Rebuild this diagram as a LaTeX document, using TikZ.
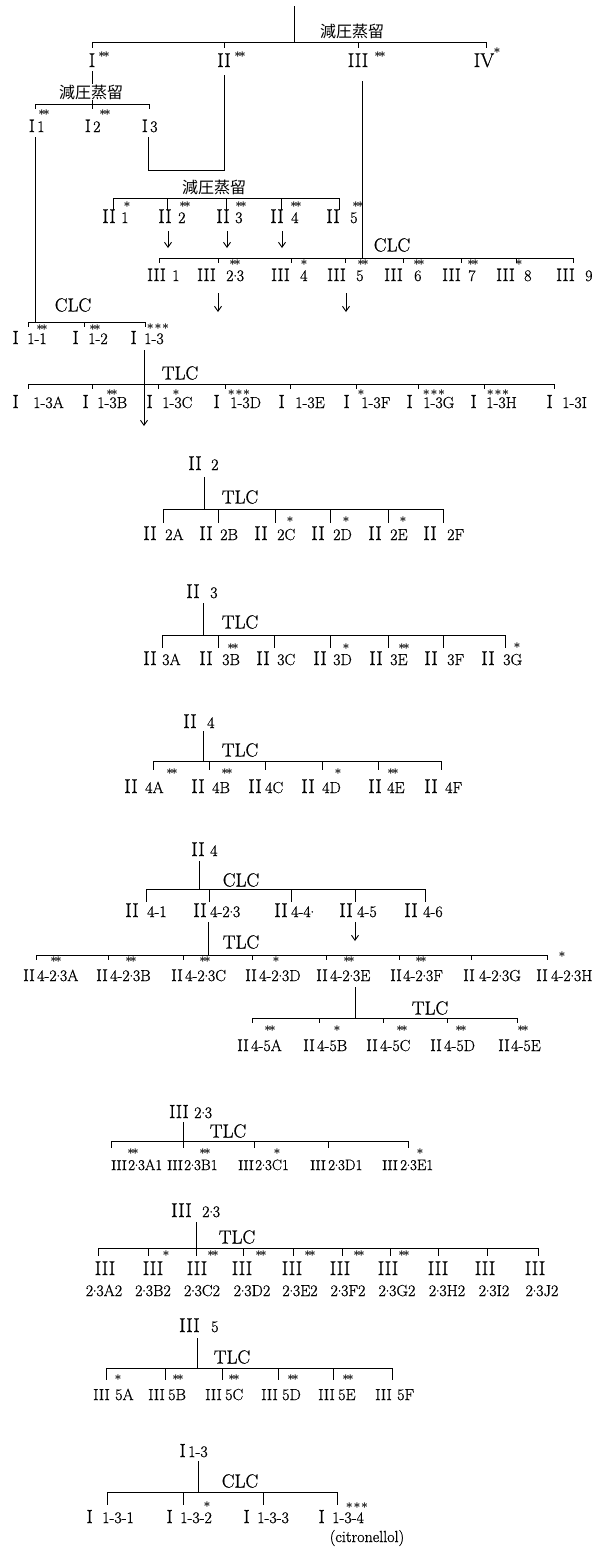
\documentclass[tikz,border=0pt]{standalone}
\usepackage{fontspec}
\setmainfont{Latin Modern Roman}[FakeBold=0.7]
\newfontfamily\jpfam{Noto Sans CJK JP}
\usetikzlibrary{arrows.meta}
\newcommand\rnsize{\fontsize{18}{18}\selectfont}
\newcommand\setrn[1]{\renewcommand\rnsize{\fontsize{#1}{#1}\selectfont}}
\newcommand\subsize{\fontsize{16}{16}\selectfont}
\newcommand\setsub[1]{\renewcommand\subsize{\fontsize{#1}{#1}\selectfont}}
\newcommand\cd{\kern-0.4pt\raisebox{0.28em}{.}\kern-0.4pt}
\newcommand\rowbar{0}\newcommand\rowtick{0}\newcommand\rowbase{0}\newcommand\rowbasetwo{0}
\newcommand\setrow[3]{\renewcommand\rowbar{#1}\renewcommand\rowtick{#2}\renewcommand\rowbase{#3}}
\newcommand\tickn[2]{\coordinate (#1t) at (#2,\rowbar); \coordinate (#1b) at (#2,\rowtick); \draw[ln] (#1t) -- (#1b);}
\newcommand\leafn[6]{%
 \tickn{#1}{#2}
 \node[rn,anchor=base east] (#1r) at (#3,\rowbase) {#5};
 \node[sbs,anchor=base west] (#1s) at (#4,\rowbase) {#6};}
\newcommand\leafv[5]{%
 \tickn{#1}{#2}
 \node[rn,anchor=base] (#1r) at (#3,\rowbase) {III};
 \node[sbs,anchor=base] (#1s) at (#4,\rowbasetwo) {#5};}
\newcommand\hdr[6]{%
 \node[rn,anchor=base east] (#1r) at (#2,#4) {#5};
 \node[sbs,anchor=base west] (#1s) at (#3,#4) {#6};}
\newcommand\mkstar[4]{\node[stf] (#1) at (#2,#3) {#4};}
\newcommand\sone{$\ast$}
\newcommand\stwo{$\ast\mkern-3mu\ast$}
\newcommand\sthree{$\ast\mkern-3mu\ast\mkern-3mu\ast$}
\tikzset{
 ln/.style={line width=0.9pt},
 rn/.style={inner sep=0pt, font=\rnsize},
 sbs/.style={inner sep=0pt, font=\subsize},
 jp/.style={inner sep=1pt, font=\jpfam\fontsize{16}{16}\selectfont},
 lab/.style={inner sep=0pt, font=\fontsize{19}{19}\selectfont},
 stf/.style={inner sep=0pt, font=\fontsize{12}{12}\selectfont\boldmath},
 arr/.style={line width=0.9pt, -{Straight Barb[length=5pt,width=7pt]}},
}
\begin{document}
\begin{tikzpicture}[x=1pt,y=-1pt]
\fill[white] (0,0) rectangle (605,1548);
\useasboundingbox (0,0) rectangle (605,1548);
% ---------- top distillation
\coordinate (top) at (294,6);
\coordinate (topj) at (294,42);
\draw[ln] (top) -- (topj);
\node[jp] (d1) at (352,31) {減圧蒸留};
\setrow{42}{48}{67}
\tickn{aI}{92}\tickn{aII}{224}\tickn{aIII}{358}\tickn{aIV}{486}
\draw[ln] (aIt) -- (aIVt);
\setrn{20}
\node[rn,anchor=base] (nI) at (92,67) {I};
\node[rn,anchor=base] (nII) at (224,67) {II};
\node[rn,anchor=base] (nIII) at (358,67) {III};
\node[rn,anchor=base] (nIV) at (484,67) {IV};
\mkstar{sI}{104}{55}{\stwo}
\mkstar{sII}{240}{55}{\stwo}
\mkstar{sIII}{380}{55}{\stwo}
\mkstar{sIV}{497}{51}{\sone}
% ---------- I distillation
\coordinate (bIm) at (92,104);
\draw[ln] ([yshift=-4pt]nI.south) -- (bIm);
\node[jp,fill=white] (d2) at (91,92) {減圧蒸留};
\setrow{104}{109}{132}
\setrn{18}
\leafn{bI1}{35}{35}{37}{I}{1}
\leafn{bI2}{92}{91}{93}{I}{2}
\leafn{bI3}{149}{148}{150}{I}{3}
\draw[ln] (bI1t) -- (bI3t);
\mkstar{sI1}{44}{113}{\stwo}
\mkstar{sI2}{105}{113}{\stwo}
% I3 joined with II
\coordinate (j1) at (148,170);
\coordinate (j2) at (224,170);
\draw[ln] ([yshift=-5pt]bI3r.south east) -- (j1) -- (j2) -- ([yshift=-8pt]nII.south);
% ---------- II distillation
\node[jp] (d3) at (214,187) {減圧蒸留};
\setrow{198}{210}{223}
\setrn{20}
\leafn{cII1}{113}{116}{121}{II}{1}
\leafn{cII2}{167}{172}{178}{II}{2}
\leafn{cII3}{226}{230}{235}{II}{3}
\leafn{cII4}{281}{284}{291}{II}{4}
\leafn{cII5}{339}{340}{350}{II}{5}
\draw[ln] (cII1t) -- (cII5t);
\mkstar{scII1}{127}{205}{\sone}
\mkstar{scII2}{185}{205}{\stwo}
\mkstar{scII3}{241}{205}{\stwo}
\mkstar{scII4}{296}{205}{\stwo}
\mkstar{scII5}{358}{205}{\stwo}
\coordinate (a2e) at (168,248);\draw[arr] (168,231) -- (a2e);
\coordinate (a3e) at (227,248);\draw[arr] (227,231) -- (a3e);
\coordinate (a4e) at (282,248);\draw[arr] (282,231) -- (a4e);
% ---------- III CLC
\coordinate (IIIj) at (362,258);
\draw[ln] ([yshift=-14pt]nIII.south -| IIIj) -- (IIIj);
\node[lab] (clc1) at (392,245) {CLC};
\setrow{258}{263}{281}
\setrn{18}
\leafn{eIII1}{159}{166}{172}{III}{1}
\leafn{eIII23}{218}{216}{226}{III}{2\cd3}
\leafn{eIII4}{291}{290}{300}{III}{4}
\leafn{eIII5}{345}{346}{356}{III}{5}
\leafn{eIII6}{403}{403}{414}{III}{6}
\leafn{eIII7}{461}{461}{468}{III}{7}
\leafn{eIII8}{516}{515}{524}{III}{8}
\leafn{eIII9}{573}{575}{585}{III}{9}
\draw[ln] (eIII1t) -- (eIII9t);
\mkstar{seIII23}{235}{263}{\stwo}
\mkstar{seIII4}{304}{263}{\sone}
\mkstar{seIII5}{363}{263}{\stwo}
\mkstar{seIII6}{419}{263}{\stwo}
\mkstar{seIII7}{473}{263}{\stwo}
\mkstar{seIII8}{519}{263}{\sone}
\coordinate (a5e) at (218,312);\draw[arr] (218,293) -- (a5e);
\coordinate (a6e) at (346,312);\draw[arr] (346,293) -- (a6e);
% ---------- I1 CLC
\coordinate (I1j) at (35,322);
\draw[ln] ([yshift=-5pt]bI1r.south east) -- (I1j);
\node[lab] (clc2) at (73,305) {CLC};
\setrow{322}{327}{344}
\setrn{19}
\leafn{fI11}{28}{19}{27}{I}{1-1}
\leafn{fI12}{84}{79}{88}{I}{1-2}
\leafn{fI13}{145}{137}{144}{I}{1-3}
\draw[ln] (fI11t) -- (fI13t);
\mkstar{sfI11}{42}{328}{\stwo}
\mkstar{sfI12}{95}{328}{\stwo}
\mkstar{sfI13}{158}{327}{\sthree}
\coordinate (a7e) at (144,426);
\draw[arr] (144,350) -- (a7e);
% ---------- I1-3 TLC
\node[lab] (tlc1) at (180,373) {TLC};
\setrow{384}{389}{408}
\leafn{gA}{28}{19}{33}{I}{1-3A}
\leafn{gB}{92}{89}{97}{I}{1-3B}
\leafn{gC}{158}{153}{162}{I}{1-3C}
\leafn{gD}{225}{220}{230}{I}{1-3D}
\leafn{gE}{290}{285}{295}{I}{1-3E}
\leafn{gF}{356}{350}{361}{I}{1-3F}
\leafn{gG}{418}{413}{423}{I}{1-3G}
\leafn{gH}{484}{477}{486}{I}{1-3H}
\leafn{gI}{554}{553}{562}{I}{1-3I}
\draw[ln] (gAt) -- (gIt);
\mkstar{sgB}{112}{393}{\stwo}
\mkstar{sgC}{176}{393}{\sone}
\mkstar{sgD}{239}{393}{\sthree}
\mkstar{sgF}{361}{393}{\sone}
\mkstar{sgG}{434}{393}{\sthree}
\mkstar{sgH}{498}{393}{\sthree}
% ---------- II2 TLC
\setrn{20}
\hdr{hII2}{202}{211}{470}{II}{2}
\coordinate (hII2j) at (204,509);
\draw[ln] (204,477) -- (hII2j);
\node[lab] (tlc2) at (240,497) {TLC};
\setrow{509}{523}{540}
\leafn{iA}{163}{157}{165}{II}{2A}
\leafn{iB}{218}{213}{220}{II}{2B}
\leafn{iC}{275}{268}{277}{II}{2C}
\leafn{iD}{330}{325}{333}{II}{2D}
\leafn{iE}{388}{382}{390}{II}{2E}
\leafn{iF}{443}{437}{447}{II}{2F}
\draw[ln] (iAt) -- (iFt);
\mkstar{siC}{290}{520}{\sone}
\mkstar{siD}{346}{520}{\sone}
\mkstar{siE}{403}{520}{\sone}
% ---------- II3 TLC
\hdr{hII3}{200}{210}{598}{II}{3}
\coordinate (hII3j) at (203,635);
\draw[ln] (203,603) -- (hII3j);
\node[lab] (tlc3) at (240,622) {TLC};
\setrow{635}{648}{665}
\leafn{kA}{162}{157}{162}{II}{3A}
\leafn{kB}{218}{213}{222}{II}{3B}
\leafn{kC}{274}{270}{277}{II}{3C}
\leafn{kD}{330}{327}{333}{II}{3D}
\leafn{kE}{388}{383}{390}{II}{3E}
\leafn{kF}{443}{438}{447}{II}{3F}
\leafn{kG}{505}{495}{503}{II}{3G}
\draw[ln] (kAt) -- (kGt);
\mkstar{skB}{233}{647}{\stwo}
\mkstar{skD}{346}{647}{\sone}
\mkstar{skE}{404}{647}{\stwo}
\mkstar{skG}{517}{646}{\sone}
% ---------- II4 TLC
\hdr{hII4}{197}{207}{728}{II}{4}
\coordinate (hII4j) at (203,761);
\draw[ln] (203,731) -- (hII4j);
\node[lab] (tlc4) at (240,750) {TLC};
\setrow{761}{770}{793}
\leafn{mA}{153}{138}{145}{II}{4A}
\leafn{mB}{209}{205}{212}{II}{4B}
\leafn{mC}{265}{262}{265}{II}{4C}
\leafn{mD}{322}{315}{322}{II}{4D}
\leafn{mE}{378}{382}{387}{II}{4E}
\leafn{mF}{441}{438}{445}{II}{4F}
\draw[ln] (mAt) -- (mFt);
\mkstar{smA}{172}{772}{\stwo}
\mkstar{smB}{227}{772}{\stwo}
\mkstar{smD}{338}{772}{\sone}
\mkstar{smE}{393}{772}{\stwo}
% ---------- II4 CLC
\hdr{hII4b}{205}{210}{856}{II}{4}
\coordinate (hII4bj) at (199,889);
\draw[ln] (199,861) -- (hII4bj);
\node[lab] (clc3) at (241,880) {CLC};
\setrow{889}{902}{917}
\leafn{nA}{146}{139}{147}{II}{4-1}
\leafn{nB}{209}{207}{210}{II}{4-2\cd3}
\leafn{nC}{291}{288}{291}{II}{4-4\cd}
\leafn{nD}{355}{353}{357}{II}{4-5}
\leafn{nE}{425}{418}{423}{II}{4-6}
\draw[ln] (nAt) -- (nEt);
\coordinate (a8e) at (355,941);\draw[arr] (355,922) -- (a8e);
% ---------- II4-2.3 TLC
\coordinate (nBj) at (208,955);
\draw[ln] (208,922) -- (nBj);
\node[lab] (tlc5) at (241,942) {TLC};
\setrow{955}{960}{981}
\setrn{17}
\leafn{pA}{36}{35}{37}{II}{4-2\cd3A}
\leafn{pB}{108}{108}{110}{II}{4-2\cd3B}
\leafn{pC}{183}{183}{185}{II}{4-2\cd3C}
\leafn{pD}{252}{257}{259}{II}{4-2\cd3D}
\leafn{pE}{326}{328}{330}{II}{4-2\cd3E}
\leafn{pF}{399}{402}{403}{II}{4-2\cd3F}
\leafn{pG}{471}{475}{479}{II}{4-2\cd3G}
\leafn{pH}{547}{548}{551}{II}{4-2\cd3H}
\draw[ln] (pAt) -- (pHt);
\mkstar{spA}{56}{960}{\stwo}
\mkstar{spB}{131}{960}{\stwo}
\mkstar{spC}{205}{960}{\stwo}
\mkstar{spD}{276}{960}{\sone}
\mkstar{spE}{349}{960}{\stwo}
\mkstar{spF}{421}{960}{\stwo}
\mkstar{spH}{562}{955}{\sone}
% ---------- II4-5 TLC
\coordinate (nDj) at (355,1018);
\draw[ln] (355,987) -- (nDj);
\node[lab] (tlc6) at (430,1008) {TLC};
\setrow{1018}{1023}{1051}
\leafn{qA}{252}{249}{251}{II}{4-5A}
\leafn{qB}{319}{315}{317}{II}{4-5B}
\leafn{qC}{383}{378}{380}{II}{4-5C}
\leafn{qD}{447}{442}{444}{II}{4-5D}
\leafn{qE}{517}{510}{511}{II}{4-5E}
\draw[ln] (qAt) -- (qEt);
\mkstar{sqA}{270}{1029}{\stwo}
\mkstar{sqB}{337}{1029}{\sone}
\mkstar{sqC}{402}{1029}{\stwo}
\mkstar{sqD}{461}{1029}{\stwo}
\mkstar{sqE}{523}{1029}{\stwo}
% ---------- III2.3 TLC (1)
\setrn{19}
\hdr{hIII23}{189}{194}{1118}{III}{2\cd3}
\coordinate (hIII23j) at (183,1141);
\draw[ln] (183,1122) -- (hIII23j);
\node[lab] (tlc7) at (228,1131) {TLC};
\setrow{1141}{1148}{1170}
\setrn{14}
\setsub{15}
\leafn{rA}{111}{127}{128}{III}{2\cd3A1}
\leafn{rB}{183}{183}{184}{III}{2\cd3B1}
\leafn{rC}{254}{254}{255}{III}{2\cd3C1}
\leafn{rD}{328}{326}{328}{III}{2\cd3D1}
\leafn{rE}{408}{398}{400}{III}{2\cd3E1}
\draw[ln] (rAt) -- (rEt);
\mkstar{srA}{133}{1152}{\stwo}
\mkstar{srB}{205}{1152}{\stwo}
\mkstar{srC}{277}{1152}{\sone}
\mkstar{srE}{420}{1152}{\sone}
\setsub{16}
% ---------- III2.3 TLC (2)
\setrn{20}
\hdr{hIII23b}{192}{202}{1217}{III}{2\cd3}
\coordinate (hIII23bj) at (196,1248);
\draw[ln] (196,1222) -- (hIII23bj);
\node[lab] (tlc8) at (237,1237) {TLC};
\setrow{1248}{1256}{1275}
\renewcommand\rowbasetwo{1296}
\leafv{uA}{98}{105}{104}{2\cd3A2}
\leafv{uB}{148}{153}{153}{2\cd3B2}
\leafv{uC}{196}{197}{202}{2\cd3C2}
\leafv{uD}{243}{242}{252}{2\cd3D2}
\leafv{uE}{293}{292}{300}{2\cd3E2}
\leafv{uF}{342}{340}{348}{2\cd3F2}
\leafv{uG}{390}{388}{397}{2\cd3G2}
\leafv{uH}{438}{438}{447}{2\cd3H2}
\leafv{uI}{487}{485}{494}{2\cd3I2}
\leafv{uJ}{538}{535}{542}{2\cd3J2}
\draw[ln] (uAt) -- (uJt);
\mkstar{suB}{166}{1254}{\sone}
\mkstar{suC}{213}{1254}{\stwo}
\mkstar{suD}{261}{1254}{\stwo}
\mkstar{suE}{310}{1254}{\stwo}
\mkstar{suF}{359}{1254}{\stwo}
\mkstar{suG}{404}{1254}{\stwo}
% ---------- III5 TLC
\hdr{hIII5}{200}{211}{1332}{III}{5}
\coordinate (hIII5j) at (197,1368);
\draw[ln] (197,1338) -- (hIII5j);
\node[lab] (tlc9) at (232,1357) {TLC};
\setrow{1368}{1380}{1400}
\setrn{16}
\leafn{vA}{106}{110}{115}{III}{5A}
\leafn{vB}{165}{165}{168}{III}{5B}
\leafn{vC}{222}{222}{225}{III}{5C}
\leafn{vD}{278}{278}{282}{III}{5D}
\leafn{vE}{333}{335}{338}{III}{5E}
\leafn{vF}{392}{392}{397}{III}{5F}
\draw[ln] (vAt) -- (vFt);
\mkstar{svA}{118}{1378}{\sone}
\mkstar{svB}{178}{1378}{\stwo}
\mkstar{svC}{234}{1378}{\stwo}
\mkstar{svD}{293}{1378}{\stwo}
\mkstar{svE}{348}{1378}{\stwo}
% ---------- I1-3 CLC
\setrn{19}
\hdr{hI13}{186}{188}{1457}{I}{1-3}
\coordinate (hI13j) at (198,1492);
\draw[ln] (198,1461) -- (hI13j);
\node[lab] (clc4) at (240,1481) {CLC};
\setrow{1492}{1505}{1523}
\leafn{wA}{107}{93}{102}{I}{1-3-1}
\leafn{wB}{183}{173}{180}{I}{1-3-2}
\leafn{wC}{263}{250}{257}{I}{1-3-3}
\leafn{wD}{337}{325}{332}{I}{1-3-4}
\draw[ln] (wAt) -- (wDt);
\mkstar{swB}{207}{1505}{\sone}
\mkstar{swD}{357}{1506}{\sthree}
\node[sbs,anchor=base] (cit) at (367,1542) {(citronellol)};
\end{tikzpicture}
\end{document}
